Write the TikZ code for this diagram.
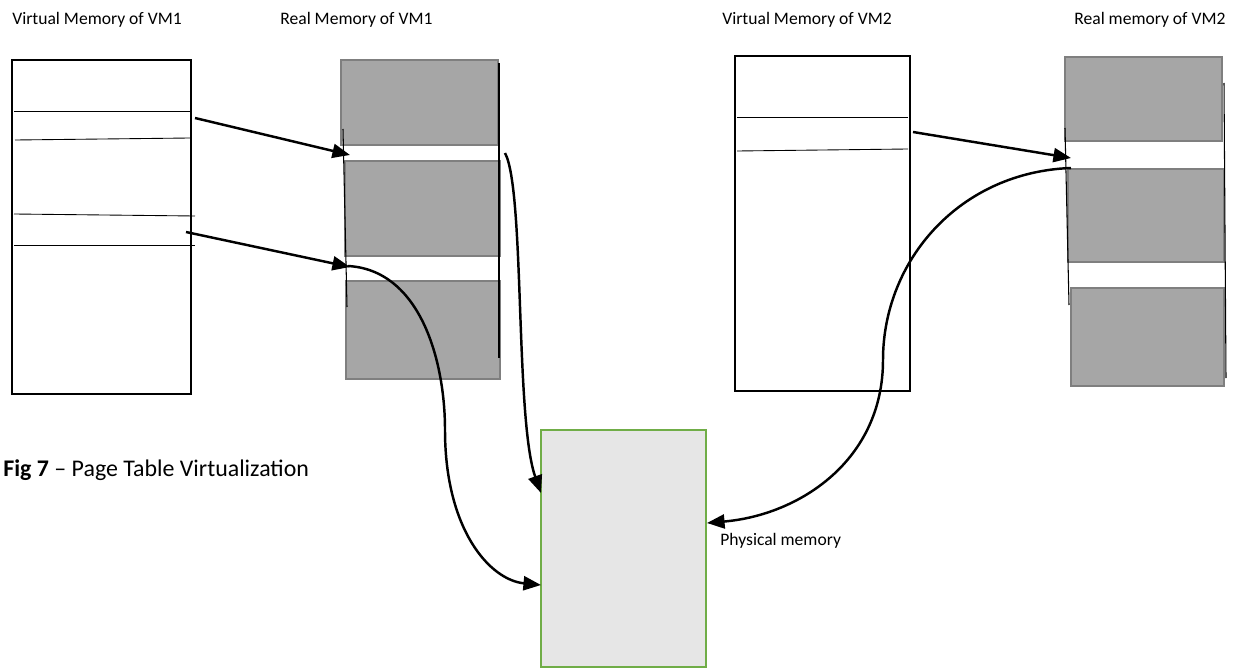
\documentclass[tikz,border=0pt]{standalone}
\usepackage{fontspec}
\setmainfont{Carlito}
\usetikzlibrary{arrows.meta,fit}
\definecolor{pagefill}{HTML}{A6A6A6}
\definecolor{pageedge}{HTML}{7F7F7F}
\definecolor{physfill}{HTML}{E6E6E6}
\definecolor{physedge}{HTML}{70AD47}
\begin{document}
\begin{tikzpicture}[x=0.02cm,y=-0.02cm,
  vbox/.style={draw=black, line width=1.5pt, inner sep=0pt},
  pagebox/.style={draw=pageedge, line width=1.1pt, fill=pagefill, inner sep=0pt},
  physbox/.style={draw=physedge, line width=1.1pt, fill=physfill, inner sep=0pt},
  rowline/.style={line width=0.5pt},
  sideline/.style={line width=0.6pt},
  link/.style={line width=1.4pt, -{Triangle[length=10pt,width=8pt]}},
  label/.style={font=\fontsize{10}{12}\selectfont, inner sep=0pt, anchor=base west},
  caption/.style={font=\fontsize{13.6}{16}\selectfont, inner sep=0pt, anchor=base west}]
\useasboundingbox (0,0) rectangle (1238,669);

% titles
\node[label] (t1) at (12,25) {Virtual Memory of VM1};
\node[label] (t2) at (280,25) {Real Memory of VM1};
\node[label] (t3) at (722,25) {Virtual Memory of VM2};
\node[label] (t4) at (1074,25) {Real memory of VM2};
\node[caption] (cap) at (3,476) {\textbf{Fig 7} -- Page Table Virtualization};
\node[label] (plabel) at (720,545) {Physical memory};

% virtual memory of VM1
\node[vbox, fit={(12,60) (191,394)}] (v1) {};
\draw[rowline] (14,111) -- (190,111);
\draw[rowline] (15,140) -- (190,138);
\draw[rowline] (14,214) -- (195,216);
\draw[rowline] (14,245) -- (195,245);

% real memory of VM1
\node[pagebox, fit={(341,60) (498,145)}] (r1a) {};
\node[pagebox, fit={(345,161) (500,256)}] (r1b) {};
\node[pagebox, fit={(346,281) (500,379)}] (r1c) {};
\draw[sideline] (343,129) -- (347,307);
\draw[sideline] (499,63) -- (499,358);

% virtual memory of VM2
\node[vbox, fit={(735,56) (910,391)}] (v2) {};
\draw[rowline] (737,117) -- (908,117);
\draw[rowline] (737,151) -- (908,149);

% real memory of VM2
\node[pagebox, fit={(1065,57) (1222,141)}] (r2a) {};
\node[pagebox, fit={(1068,169) (1224,262)}] (r2b) {};
\node[pagebox, fit={(1071,288) (1224,386)}] (r2c) {};
\draw[sideline] (1065,128) -- (1069,305);
\draw[sideline] (1224,83) -- (1226,378);

% physical memory
\node[physbox, fit={(541,430) (706,667)}] (phys) {};

% connector end points
\coordinate (a1s) at (195,118);
\coordinate (a1e) at (350,155);
\coordinate (a2s) at (186,232);
\coordinate (a2e) at (350,267);
\coordinate (a3s) at (913,132);
\coordinate (a3e) at (1071,158);
\coordinate (cAs) at (505,153);
\coordinate (cAe) at (541,493);
\coordinate (cBs) at (348,266);
\coordinate (cBm) at (445,430);
\coordinate (cBe) at (541,585);
\coordinate (cCs) at (1071,168);
\coordinate (cCm) at (883,360);
\coordinate (cCe) at (707,523);

% page mappings
\draw[link] (a1s) -- (a1e);
\draw[link] (a2s) -- (a2e);
\draw[link] (a3s) -- (a3e);

% real to physical mappings
\draw[link] (cAs) .. controls (525,190) and (515,420) .. (cAe);
\draw[link] (cBs) .. controls (420,270) and (445,360) .. (cBm)
                  .. controls (445,530) and (490,580) .. (cBe);
\draw[link] (cCs) .. controls (960,172) and (883,260) .. (cCm)
                  .. controls (883,460) and (800,515) .. (cCe);
\end{tikzpicture}
\end{document}
